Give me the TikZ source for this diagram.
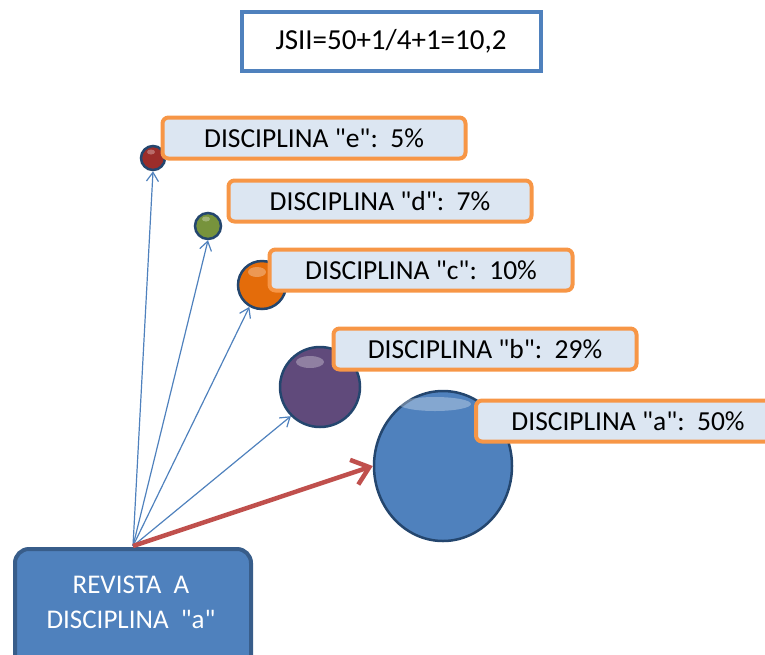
\documentclass[tikz,border=0pt]{standalone}
\usepackage{fontspec}
\setmainfont{Carlito}[Ligatures=TeXOff]
\usetikzlibrary{shapes.geometric,arrows.meta}
\definecolor{obl}{HTML}{4F81BD}
\definecolor{obld}{HTML}{385D8A}
\definecolor{rim}{HTML}{24466E}
\definecolor{oor}{HTML}{F79646}
\definecolor{lfill}{HTML}{DCE6F2}
\definecolor{ored}{HTML}{C0504D}
\definecolor{cE}{HTML}{9B2D2A}
\definecolor{cD}{HTML}{77933C}
\definecolor{cC}{HTML}{E46C0A}
\definecolor{cB}{HTML}{604A7B}
\tikzset{
  lbl/.style={draw=oor, line width=4pt, fill=lfill, rounded corners=6pt, minimum width=303pt, minimum height=41pt, inner sep=0pt, font=\fontsize{27.5}{30}\selectfont},
  ballnode/.style={circle, inner sep=0pt, draw=rim, line width=2.5pt},
  thin/.style={draw=obl, line width=1.2pt, -{Straight Barb[length=9pt,width=12pt]}},
  hl/.style={fill=white, opacity=0.3},
}
\begin{document}
\begin{tikzpicture}[x=1pt,y=-1pt]
\useasboundingbox (0,0) rectangle (765,654);
\node[draw=obl, line width=4pt, fill=white, minimum width=299pt, minimum height=59pt, inner sep=0pt, font=\fontsize{29}{32}\selectfont] (jsii) at (391,41) {JSII=50+1/4+1=10,2};
% spheres
\node[ballnode, fill=cE, minimum size=24pt] (se) at (153,158) {};
\node[ballnode, fill=cD, minimum size=26pt] (sd) at (208,226) {};
\node[ballnode, fill=cC, minimum size=48pt] (sc) at (262,285) {};
\node[ballnode, fill=cB, minimum size=80pt] (sb) at (320,387) {};
\node[ellipse, inner sep=0pt, fill=obl, draw=rim, line width=2.5pt, minimum width=138pt, minimum height=150pt] (sa) at (443,466) {};
\fill[hl] (se.center) ++(-2,-6) ellipse (4 and 2.5);
\fill[hl] (sd.center) ++(-2,-7) ellipse (4 and 2.5);
\fill[hl] (sc.center) ++(-5,-13) ellipse (9 and 5);
\fill[hl] (sb.center) ++(-10,-25) ellipse (14 and 6);
\fill[hl] (sa.center) ++(-8,-62) ellipse (36 and 7);
% labels
\node[lbl] (le) at (314,138) {DISCIPLINA "e":\ \ 5\%};
\node[lbl] (ld) at (380,201) {DISCIPLINA "d":\ \ 7\%};
\node[lbl] (lc) at (421,270) {DISCIPLINA "c":\ \ 10\%};
\node[lbl] (lb) at (485,349) {DISCIPLINA "b":\ \ 29\%};
\node[lbl, minimum width=320pt, anchor=west] (la) at (474,421) {\hspace*{-16pt}DISCIPLINA "a":\ \ 50\%};
% source box
\node[draw=obld, line width=4pt, fill=obl, rounded corners=14pt, minimum width=236pt, minimum height=120pt, inner sep=0pt, anchor=north west] (rev) at (13,547) {};
\node[text=white, align=center, font=\fontsize{27}{35}\selectfont] (revt) at (131,602) {REVISTA\ \ A\\DISCIPLINA\ \ "a"};
\coordinate (src) at (133,546);
% connectors
\draw[thin] (src) -- (se.south);
\draw[thin] (src) -- (sd.south);
\draw[thin] (src) -- (sc.-120);
\draw[thin] (src) -- (sb.-135);
\draw[draw=ored, line width=4.5pt, -{Straight Barb[length=16pt,width=26pt,line width=4.5pt]}] (src) -- (sa.west);
\end{tikzpicture}
\end{document}
